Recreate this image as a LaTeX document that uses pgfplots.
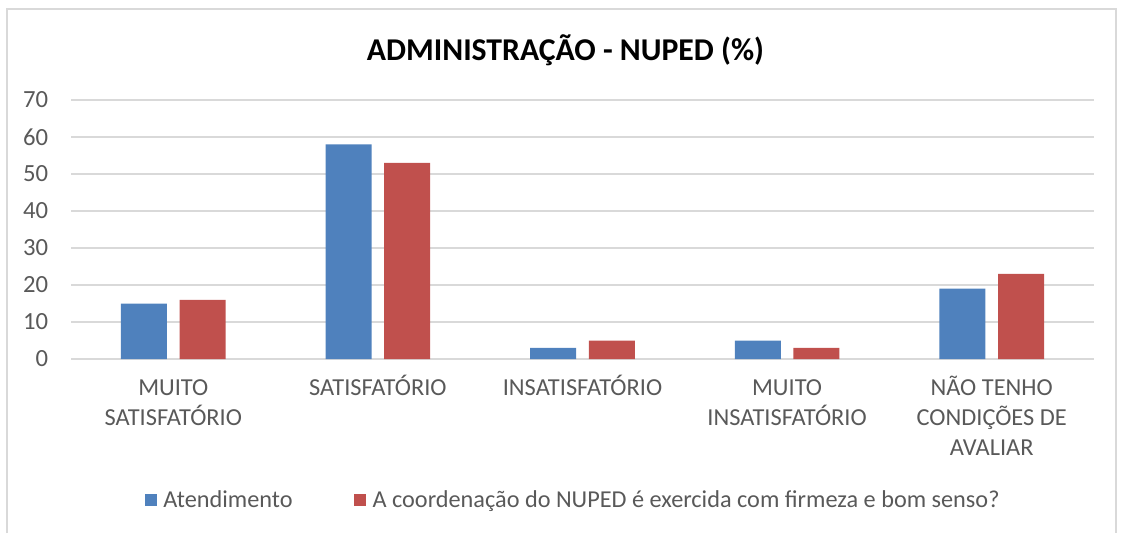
\documentclass[border=0pt]{standalone}
\usepackage{fontspec}
\setmainfont{Carlito}
\usepackage{pgfplots}
\pgfplotsset{compat=1.18}
\definecolor{cblue}{HTML}{4F81BD}
\definecolor{cred}{HTML}{C0504D}
\definecolor{gridc}{HTML}{D9D9D9}
\definecolor{txt}{HTML}{595959}
\begin{document}
\begin{tikzpicture}
\useasboundingbox (0,0) rectangle (842.25pt,399.75pt);
\draw[gridc, line width=0.9pt] (5.25pt,0) -- (5.25pt,393pt) -- (837pt,393pt) -- (837pt,0);
\node[font=\bfseries\fontsize{23.8}{28}\selectfont, text=black] at (424.1pt,362.25pt) {ADMINISTRAÇÃO - NUPED (\%)};
\begin{axis}[
  at={(53.25pt,130.5pt)}, anchor=south west,
  width=767.25pt, height=194.25pt, scale only axis,
  xmin=-0.5, xmax=4.5, ymin=0, ymax=70,
  ytick={0,10,...,70},
  xtick={0,1,2,3,4},
  xticklabels={{\rule{0pt}{15.5pt}MUITO\\SATISFATÓRIO},{\rule{0pt}{15.5pt}SATISFATÓRIO},{\rule{0pt}{15.5pt}INSATISFATÓRIO},{\rule{0pt}{15.5pt}MUITO\\INSATISFATÓRIO},{\rule{0pt}{15.5pt}NÃO TENHO\\CONDIÇÕES DE\\AVALIAR}},
  axis line style={draw=none},
  tick style={draw=none},
  ymajorgrids, grid style={gridc, line width=1.1pt},
  /pgf/number format/assume math mode=true,
  yticklabel style={anchor=east, inner sep=0pt, xshift=-17pt, text=txt, font=\fontsize{18.5}{22}\selectfont},
  xticklabel style={anchor=north, inner sep=0pt, yshift=-12pt, align=center, text=txt, font=\fontsize{18.3}{22.5}\selectfont},
  legend style={at={(0.4912,-0.5444)}, anchor=center, draw=none, fill=none, legend columns=2,
    font=\fontsize{18.2}{22}\selectfont, text=txt, inner sep=0pt,
    /tikz/every even column/.append style={column sep=44pt}},
]
\addplot[ybar, bar width=34.5pt, bar shift=-22pt, fill=cblue, draw=none,
  legend image code/.code={\fill[cblue] (0pt,-4.5pt) rectangle (9pt,4.5pt); \path (12pt,0pt);}]
  coordinates {(0,15) (1,58) (2,3) (3,5) (4,19)};
\addlegendentry{Atendimento}
\addplot[ybar, bar width=34.5pt, bar shift=22pt, fill=cred, draw=none,
  legend image code/.code={\fill[cred] (0pt,-4.5pt) rectangle (9pt,4.5pt); \path (12pt,0pt);}]
  coordinates {(0,16) (1,53) (2,5) (3,3) (4,23)};
\addlegendentry{A coordenação do NUPED é exercida com firmeza e bom senso?}
\end{axis}
\end{tikzpicture}
\end{document}
